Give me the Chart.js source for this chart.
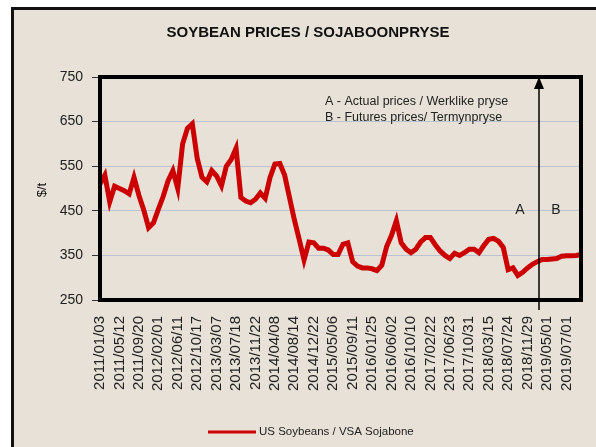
<!DOCTYPE html>
<html>
<head>
<meta charset="utf-8">
<script src="https://cdn.jsdelivr.net/npm/chart.js@4"></script>
<style>
  html, body { margin: 0; padding: 0; background: #fff; }
  #wrap { width: 596px; height: 447px; }
</style>
</head>
<body>
<div id="wrap"><canvas id="soyChart" width="596" height="447"></canvas></div>
<script>
// tick dates shown on the x axis (every 4th point)
const tickDates = [
    "2011/01/03", "2011/05/12", "2011/09/20", "2012/02/01", "2012/06/11",
    "2012/10/17", "2013/03/07", "2013/07/18", "2013/11/22", "2014/04/08",
    "2014/08/14", "2014/12/22", "2015/05/06", "2015/09/11", "2016/01/25",
    "2016/06/02", "2016/10/10", "2017/02/22", "2017/06/23", "2017/10/31",
    "2018/03/15", "2018/07/24", "2018/11/29", "2019/05/01", "2019/07/01"
];
const pointsPerTick = 4;

// US soybean prices ($/t)
const soyPrices = [
    510, 530, 470, 505, 500, 495, 488, 525, 485, 452,
    412, 423, 453, 482, 517, 540, 500, 600, 635, 645,
    568, 525, 515, 540, 528, 506, 550, 565, 590, 480,
    472, 468, 476, 490, 478, 525, 555, 556, 530, 480,
    430, 386, 340, 380, 378, 366, 366, 362, 352, 352,
    375, 378, 336, 326, 322, 322, 320, 316, 328, 370,
    395, 428, 378, 364, 356, 364, 380, 390, 390, 374,
    360, 350, 343, 355, 350, 356, 364, 364, 356, 372,
    386, 388, 382, 368, 318, 322, 305, 312, 322, 330,
    336, 341, 341, 342, 343, 348, 349, 349, 350, 352
];

const yTicks = [250, 350, 450, 550, 650, 750];

const labels = soyPrices.map((_, i) =>
    i % pointsPerTick === 0 ? (tickDates[i / pointsPerTick] || "") : "");

const FONT = "'Liberation Sans', Arial, sans-serif";
const BEIGE = "#e7e1d7";

const decor = {
    id: "decor",
    beforeDraw(chart) {
        const ctx = chart.ctx;
        ctx.save();
        ctx.fillStyle = "#fff";
        ctx.fillRect(0, 0, chart.width, chart.height);
        ctx.fillStyle = BEIGE;
        ctx.fillRect(12, 8, chart.width - 12, chart.height - 8);
        ctx.fillStyle = "#111";
        ctx.fillRect(11, 7, chart.width - 11, 3);
        ctx.fillRect(11, 7, 3, chart.height - 7);
        ctx.restore();
    },
    afterDatasetsDraw(chart) {
        const ctx = chart.ctx;
        const a = chart.chartArea;
        ctx.save();
        ctx.strokeStyle = "#000";
        ctx.lineWidth = 4;
        ctx.strokeRect(a.left, a.top, a.right - a.left, a.bottom - a.top);

        // divider arrow between actual and futures prices
        const ax = 539;
        ctx.lineWidth = 1.5;
        ctx.beginPath();
        ctx.moveTo(ax, 310);
        ctx.lineTo(ax, 86);
        ctx.stroke();
        ctx.fillStyle = "#000";
        ctx.beginPath();
        ctx.moveTo(ax, 77);
        ctx.lineTo(ax - 5, 89);
        ctx.lineTo(ax + 5, 89);
        ctx.closePath();
        ctx.fill();

        ctx.fillStyle = "#222";
        ctx.font = "12.5px " + FONT;
        ctx.textBaseline = "middle";
        ctx.textAlign = "left";
        ctx.fillText("A - Actual prices / Werklike pryse", 325, 102);
        ctx.fillText("B - Futures prices/ Termynpryse", 325, 118);
        ctx.font = "14px " + FONT;
        ctx.textAlign = "center";
        ctx.fillText("A", 520, 210);
        ctx.fillText("B", 556, 210);
        ctx.restore();
    },
    afterDraw(chart) {
        const ctx = chart.ctx;
        ctx.save();
        ctx.fillStyle = "#111";
        ctx.font = "bold 15px " + FONT;
        ctx.textAlign = "center";
        ctx.textBaseline = "middle";
        ctx.fillText("SOYBEAN PRICES / SOJABOONPRYSE", 308, 33);

        ctx.font = "13px " + FONT;
        ctx.translate(42, 190);
        ctx.rotate(-Math.PI / 2);
        ctx.fillText("$/t", 0, 0);
        ctx.restore();

        // legend
        ctx.save();
        ctx.strokeStyle = "#cc0000";
        ctx.lineWidth = 3;
        ctx.beginPath();
        ctx.moveTo(208, 432);
        ctx.lineTo(256, 432);
        ctx.stroke();
        ctx.fillStyle = "#222";
        ctx.font = "11.5px " + FONT;
        ctx.textAlign = "left";
        ctx.textBaseline = "middle";
        ctx.fillText("US Soybeans / VSA Sojabone", 259, 432);
        ctx.restore();
    }
};

new Chart(document.getElementById("soyChart"), {
    type: "line",
    data: {
        labels,
        datasets: [{
            label: "US Soybeans / VSA Sojabone",
            data: soyPrices,
            borderColor: "#cc0000",
            borderWidth: 5,
            pointRadius: 0,
            tension: 0
        }]
    },
    options: {
        responsive: false,
        animation: false,
        layout: { padding: { left: 0, top: 77, right: 15, bottom: 0 } },
        plugins: {
            legend: { display: false },
            tooltip: { enabled: false }
        },
        scales: {
            x: {
                type: "category",
                offset: false,
                grid: { display: false },
                border: { display: false },
                afterFit(scale) {
                    scale.height = 147;
                    scale.paddingLeft = 0;
                    scale.paddingRight = 0;
                },
                ticks: {
                    autoSkip: false,
                    minRotation: 90,
                    maxRotation: 90,
                    padding: 8,
                    color: "#222",
                    font: { family: FONT, size: 15 }
                }
            },
            y: {
                min: 250,
                max: 750,
                afterFit(scale) {
                    scale.width = 100;
                    scale.paddingTop = 0;
                    scale.paddingBottom = 0;
                },
                afterBuildTicks(scale) {
                    scale.ticks = yTicks.map(v => ({ value: v }));
                },
                grid: {
                    color: "#b9c3d3",
                    lineWidth: 1,
                    tickLength: 8,
                    tickColor: "#333"
                },
                border: { display: false },
                ticks: {
                    padding: 9,
                    color: "#222",
                    font: { family: FONT, size: 14 }
                }
            }
        }
    },
    plugins: [decor]
});
</script>
</body>
</html>
